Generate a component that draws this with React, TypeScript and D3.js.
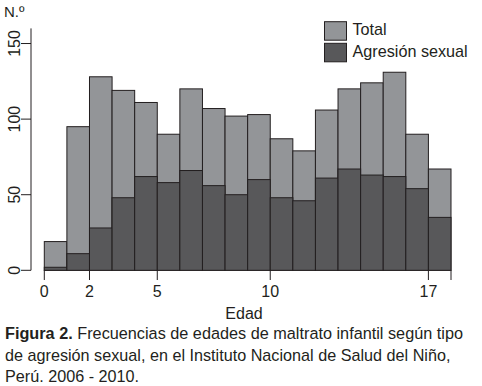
import React from 'react';
import * as d3 from 'd3';

const ages = d3.range(0, 18);
const totalValues = [19, 95, 128, 119, 111, 90, 120, 107, 102, 103, 87, 79, 106, 120, 124, 131, 90, 67];
const sexualValues = [2, 11, 28, 48, 62, 58, 66, 56, 50, 60, 48, 46, 61, 67, 63, 62, 54, 35];
const yTicks = [0, 50, 100, 150];
const xTicks = [0, 2, 5, 10, 17, 18];
const xTickLabels = ['0', '2', '5', '10', '17', ''];
const legendItems = ['Total', 'Agresión sexual'];
const captionLines = [
  'Frecuencias de edades de maltrato infantil según tipo',
  'de agresión sexual, en el Instituto Nacional de Salud del Niño,',
  'Perú. 2006 - 2010.',
];

const font = '"Liberation Sans", Arial, sans-serif';
const ink = '#231f20';
const colors = ['#939598', '#58585a'];

export default function App() {
  const x = d3.scaleLinear().domain([0, 18]).range([44.3, 451]);
  const y = d3.scaleLinear().domain([0, 160]).range([270.3, 28.4]);
  const series = [totalValues, sexualValues];

  return (
    <svg
      width={482}
      height={386}
      style={{ position: 'absolute', left: 0, top: 0, background: '#fff' }}
      fontFamily={font}
    >
      <text x={4} y={17} fontSize={15} fill={ink}>N.º</text>

      {series.map((values, s) => (
        <g key={s}>
          {ages.map((age, i) => (
            <rect
              key={age}
              x={x(age)}
              y={y(values[i])}
              width={x(age + 1) - x(age)}
              height={y(0) - y(values[i])}
              fill={colors[s]}
              stroke={ink}
              strokeWidth={1}
            />
          ))}
        </g>
      ))}

      {/* y axis */}
      <line x1={31} x2={31} y1={y(0)} y2={y(160)} stroke={ink} strokeWidth={1} />
      {yTicks.map((t) => (
        <g key={t}>
          <line x1={21} x2={31} y1={y(t)} y2={y(t)} stroke={ink} strokeWidth={1} />
          <text
            transform={`translate(19.5,${y(t)}) rotate(-90)`}
            textAnchor="middle"
            fontSize={16}
            fill={ink}
          >
            {t}
          </text>
        </g>
      ))}

      {/* x ticks */}
      {xTicks.map((t, i) => (
        <g key={t}>
          <line x1={x(t)} x2={x(t)} y1={270.3} y2={280} stroke={ink} strokeWidth={1} />
          <text x={x(t)} y={297} textAnchor="middle" fontSize={16} fill={ink}>
            {xTickLabels[i]}
          </text>
        </g>
      ))}
      <text x={244} y={319} textAnchor="middle" fontSize={16} fill={ink}>Edad</text>

      {/* legend */}
      {legendItems.map((name, i) => (
        <g key={name} transform={`translate(324.5,${21.7 + i * 21.6})`}>
          <rect width={22} height={18.5} fill={colors[i]} stroke={ink} strokeWidth={1} />
          <text x={28} y={13.5} fontSize={16.2} fill={ink}>{name}</text>
        </g>
      ))}

      {/* caption */}
      <text x={5} y={339} fontSize={16.25} fill={ink}>
        <tspan fontWeight="bold">Figura 2.</tspan> {captionLines[0]}
      </text>
      <text x={5} y={361} fontSize={16.2} fill={ink}>{captionLines[1]}</text>
      <text x={5} y={382} fontSize={16.2} fill={ink}>{captionLines[2]}</text>
    </svg>
  );
}
